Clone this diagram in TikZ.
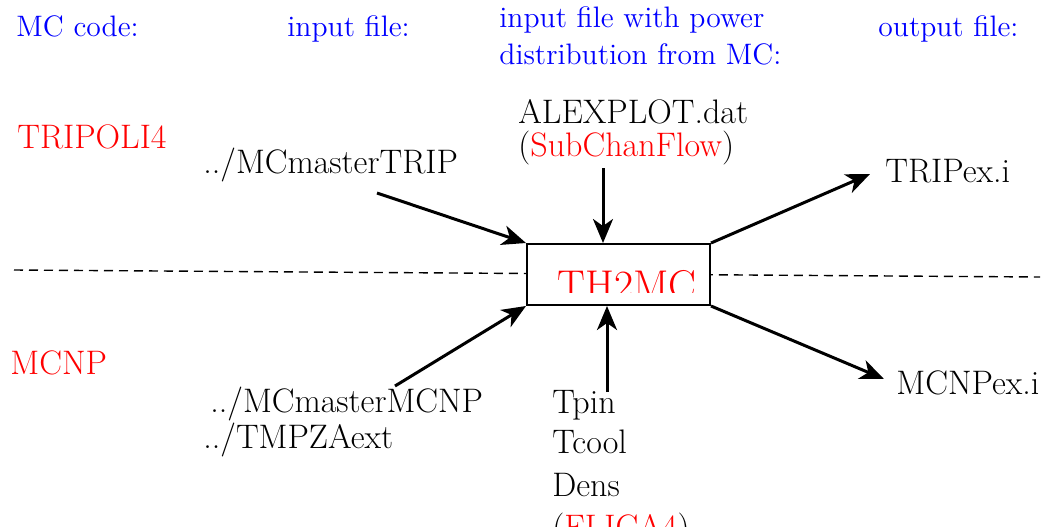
\documentclass[tikz,border=0pt]{standalone}
\usepackage{fontspec}
\usetikzlibrary{arrows.meta}
\tikzset{
  hdr/.style={anchor=base west, inner sep=0pt, text=blue, font=\fontsize{14.8}{18}\selectfont},
  lbl/.style={anchor=base west, inner sep=0pt, font=\fontsize{17}{20}\selectfont},
  code/.style={lbl, text=red},
  flow/.style={line width=1.5pt, -{Stealth[length=12pt, width=10pt, inset=3.5pt]}}
}
\begin{document}
\begin{tikzpicture}[x=0.5pt,y=-0.5pt]
\useasboundingbox (0,0) rectangle (1056,526);
% column headers
\node[hdr] (mccode) at (16,36) {MC code:};
\node[hdr] (infile) at (287,36) {input file:};
\node[hdr] (powfile) at (499,27) {input file with power};
\node[hdr] (powfile2) at (499,64) {distribution from MC:};
\node[hdr] (outfile) at (878,36) {output file:};
% MC codes
\node[code] (tripoli) at (17,148) {TRIPOLI4};
\node[code] (mcnp) at (10,374) {MCNP};
% separator
\coordinate (sepL) at (14,270);
\coordinate (sepR) at (1040,277);
\draw[dash pattern=on 4.5pt off 3pt, line width=0.7pt] (sepL) -- (sepR);
% converter box
\node[draw, fill=white, line width=1pt, inner sep=0pt, minimum width=91.5pt, minimum height=30.5pt] (th2mc) at (618.5,274.5) {};
\begin{scope}
\clip (th2mc.north west) rectangle ([yshift=7pt]th2mc.south east);
\node[anchor=base west, inner sep=0pt, text=red, font=\fontsize{20.8}{24}\selectfont] (title) at (557,299) {TH2MC};
\end{scope}
% files
\node[lbl] (tripin) at (203,173) {../MCmasterTRIP};
\node[lbl] (alex) at (518,123) {ALEXPLOT.dat};
\node[lbl] (subchan) at (518,156) {(\textcolor{red}{SubChanFlow})};
\node[lbl] (tripout) at (885,182) {TRIPex.i};
\node[lbl] (mcnpout) at (896,394) {MCNPex.i};
\node[lbl] (mcnpin) at (210,412) {../MCmasterMCNP};
\node[lbl] (tmpza) at (203,448) {../TMPZAext};
\node[lbl] (tpin) at (552,413) {Tpin};
\node[lbl] (tcool) at (552,453) {Tcool};
\node[lbl] (dens) at (552,496) {Dens};
\node[lbl] (flica) at (552,538) {(\textcolor{red}{FLICA4})};
% arrow ends
\coordinate (tripfrom) at (377,193);
\coordinate (alexfrom) at (603,168);
\coordinate (mcnpfrom) at (395,386);
\coordinate (tpinfrom) at (607,392);
\coordinate (tripto) at (870,174);
\coordinate (mcnpto) at (884,379);
% arrows
\draw[flow] (tripfrom) -- (th2mc.north west);
\draw[flow] (alexfrom) -- (alexfrom |- th2mc.north);
\draw[flow] (mcnpfrom) -- (th2mc.south west);
\draw[flow] (tpinfrom) -- (tpinfrom |- th2mc.south);
\draw[flow] (th2mc.north east) -- (tripto);
\draw[flow] (th2mc.south east) -- (mcnpto);
\end{tikzpicture}
\end{document}
